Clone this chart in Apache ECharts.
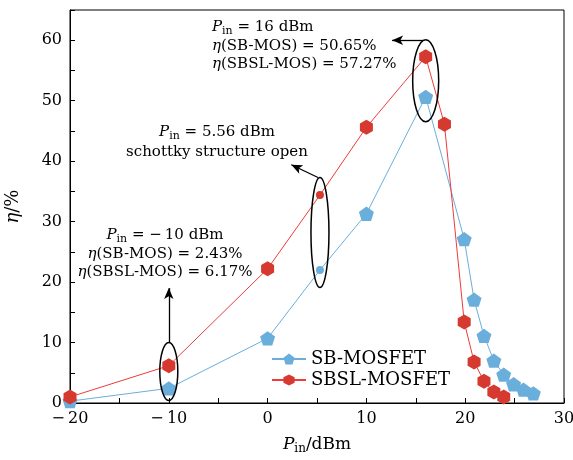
<!DOCTYPE html>
<html>
<head>
<meta charset="utf-8">
<script src="https://cdn.jsdelivr.net/npm/echarts@6/dist/echarts.min.js"></script>
<style>
  html, body { margin: 0; padding: 0; background: #fff; }
  #chart { width: 573px; height: 460px; }
</style>
</head>
<body>
<div id="chart"></div>
<script>
// input power (dBm) and drain efficiency (%)
const sbX = [-20, -10, 0, 5.3, 10, 16, 19.9, 20.9, 21.9, 22.9, 23.9, 24.9, 25.9, 26.9];
const sbY = [0.3, 2.43, 10.7, 22.0, 31.3, 50.65, 27.1, 17.1, 11.1, 7.0, 4.7, 3.1, 2.2, 1.6];
const sbslX = [-20, -10, 0, 5.3, 10, 16, 17.9, 19.9, 20.9, 21.9, 22.9, 23.9];
const sbslY = [1.0, 6.17, 22.2, 34.4, 45.6, 57.27, 46.1, 13.4, 6.8, 3.6, 1.8, 1.0];
const openX = 5.3; // point drawn as a small dot

// annotation ellipses: centre in data coords, radii in px
const ellipses = [
  { x: -10, y: 5.2, rx: 9, ry: 29 },
  { x: 5.3, y: 28.2, rx: 9, ry: 55 },
  { x: 16, y: 53.3, rx: 13, ry: 41 }
];
// arrows: [from, to] in data coords
const arrows = [
  [[-10, 10.1], [-10, 19.0]],
  [[5.1, 37.3], [2.4, 39.4]],
  [[15.7, 60.0], [12.6, 60.0]]
];

const FONT = 'DejaVu Serif';
const blueLine = '#6aaedc', blueMark = '#6aaedb';
const redLine = '#ee3b3b', redMark = '#d6392f';
const pentagon = 'path://M0,-1 L0.951,-0.309 L0.588,0.809 L-0.588,0.809 L-0.951,-0.309 Z';
const hexagon = 'path://M0,-1 L0.866,-0.5 L0.866,0.5 L0,1 L-0.866,0.5 L-0.866,-0.5 Z';

const toData = (xs, ys) => xs.map((x, i) => x === openX
  ? { value: [x, ys[i]], symbol: 'circle', symbolSize: 8 }
  : [x, ys[i]]);

const mkRich = (size) => ({
  it: { fontFamily: FONT, fontStyle: 'italic', fontSize: size, color: '#000' },
  sub: { fontFamily: FONT, fontSize: Math.round(size * 0.7), color: '#000', padding: [Math.round(size * 0.5), 0, 0, 0] },
  t: { fontFamily: FONT, fontSize: size, color: '#000' }
});
const rich = mkRich(15);

const chart = echarts.init(document.getElementById('chart'), null, { renderer: 'canvas' });

chart.setOption({
  animation: false,
  backgroundColor: '#fff',
  grid: {
    left: 70, right: 9, top: 10, bottom: 57, containLabel: false, outerBoundsMode: 'none',
    show: true, borderColor: '#000', borderWidth: 1
  },
  xAxis: {
    type: 'value', min: -20, max: 30, interval: 10,
    name: '{it|P}{sub|in}{t|/dBm}', nameLocation: 'middle', nameGap: 31,
    nameTextStyle: { rich: mkRich(17) },
    axisLine: { onZero: false, lineStyle: { color: '#000' } },
    axisTick: { inside: true, length: 5, lineStyle: { color: '#000' } },
    minorTick: { show: true, splitNumber: 2, length: 5, lineStyle: { color: '#000' } },
    splitLine: { show: false },
    axisLabel: {
      color: '#000', fontFamily: FONT, fontSize: 16, margin: 8,
      formatter: v => v < 0 ? '\u2212\u2009' + (-v) : String(v)
    }
  },
  yAxis: {
    type: 'value', min: 0, max: 65, interval: 10,
    name: '{it|\u03b7}{t|/%}', nameLocation: 'middle', nameGap: 48,
    nameTextStyle: { rich: mkRich(18) },
    axisLine: { onZero: false, lineStyle: { color: '#000' } },
    axisTick: { inside: true, length: 5, lineStyle: { color: '#000' } },
    minorTick: { show: true, splitNumber: 2, length: 5, lineStyle: { color: '#000' } },
    splitLine: { show: false },
    axisLabel: {
      color: '#000', fontFamily: FONT, fontSize: 16, margin: 8, showMaxLabel: false,
      formatter: v => v > 60 ? '' : String(v)
    }
  },
  legend: {
    orient: 'vertical', left: 266, top: 345, itemGap: 3,
    itemWidth: 34, itemHeight: 14,
    textStyle: { color: '#000', fontFamily: FONT, fontSize: 18 },
    data: ['SB-MOSFET', 'SBSL-MOSFET']
  },
  series: [
    {
      name: 'SB-MOSFET', type: 'line', data: toData(sbX, sbY),
      symbol: pentagon, symbolSize: 15, symbolKeepAspect: true,
      lineStyle: { color: blueLine, width: 1 }, itemStyle: { color: blueMark },
      z: 2,
      markLine: {
        silent: true, symbol: ['none', 'arrow'], symbolSize: [7, 11],
        label: { show: false },
        lineStyle: { color: '#000', width: 1.3, type: 'solid' },
        data: arrows.map(a => [{ coord: a[0] }, { coord: a[1] }])
      }
    },
    {
      name: 'SBSL-MOSFET', type: 'line', data: toData(sbslX, sbslY),
      symbol: hexagon, symbolSize: 15, symbolKeepAspect: true,
      lineStyle: { color: redLine, width: 1 }, itemStyle: { color: redMark },
      z: 3
    }
  ]
});

const txt = (x, y, text, align) => ({
  type: 'text', x: x, y: y, z: 10, silent: true,
  style: { text: text, rich: rich, font: '15px ' + FONT, fill: '#000', align: align, verticalAlign: 'middle' }
});

const graphics = ellipses.map(e => {
  const p = chart.convertToPixel({ gridIndex: 0 }, [e.x, e.y]);
  return {
    type: 'ellipse', z: 10, silent: true,
    shape: { cx: p[0], cy: p[1], rx: e.rx, ry: e.ry },
    style: { fill: 'none', stroke: '#000', lineWidth: 1.5 }
  };
});

graphics.push(
  txt(212, 27, '{it|P}{sub|in}{t| = 16 dBm}', 'left'),
  txt(212, 46, '{it|\u03b7}{t|(SB-MOS) = 50.65%}', 'left'),
  txt(212, 64, '{it|\u03b7}{t|(SBSL-MOS) = 57.27%}', 'left'),
  txt(217, 132, '{it|P}{sub|in}{t| = 5.56 dBm}', 'center'),
  txt(217, 152, '{t|schottky structure open}', 'center'),
  txt(165, 235, '{it|P}{sub|in}{t| = \u2212\u200910 dBm}', 'center'),
  txt(165, 254, '{it|\u03b7}{t|(SB-MOS) = 2.43%}', 'center'),
  txt(165, 272, '{it|\u03b7}{t|(SBSL-MOS) = 6.17%}', 'center')
);

chart.setOption({ graphic: graphics });
</script>
</body>
</html>
